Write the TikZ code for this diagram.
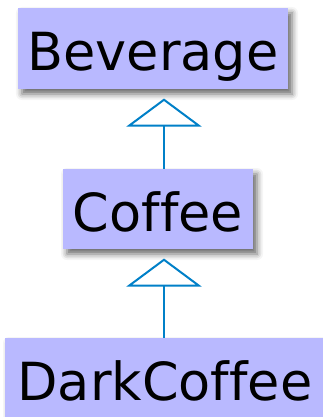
\documentclass[tikz,border=0pt]{standalone}
\usepackage{fontspec}
\setmainfont[Ligatures={NoCommon}]{DejaVu Sans}
\usetikzlibrary{arrows.meta,shadows.blur}
\definecolor{classfill}{RGB}{185,185,255}
\definecolor{linkblue}{RGB}{0,128,200}
\tikzset{
  classbox/.style={rectangle, fill=classfill, inner sep=0pt,
    text height=44pt, text depth=0pt,
    font=\fontsize{52.5}{60}\selectfont,
    blur shadow={shadow xshift=4pt, shadow yshift=-5pt,
      shadow blur radius=6pt, shadow opacity=60}},
  inherits/.style={draw=linkblue, line width=2pt,
    -{Triangle[open, fill=white, length=28pt, width=75pt]}}
}
\begin{document}
\begin{tikzpicture}[x=1pt, y=-1pt]
  \useasboundingbox (0,0) rectangle (322,417);
  \node[classbox, minimum width=270pt, minimum height=81pt] (bev) at (153,48.5) {Beverage};
  \node[classbox, minimum width=190pt, minimum height=80pt] (cof) at (158,209) {Coffee};
  \node[classbox, minimum width=320pt, minimum height=80pt] (dark) at (165,378) {DarkCoffee};
  \coordinate (tipA) at (164,98.5);
  \coordinate (tipB) at (164,258.5);
  \draw[inherits] (cof.north -| tipA) -- (tipA);
  \draw[inherits] (dark.north -| tipB) -- (tipB);
\end{tikzpicture}
\end{document}
